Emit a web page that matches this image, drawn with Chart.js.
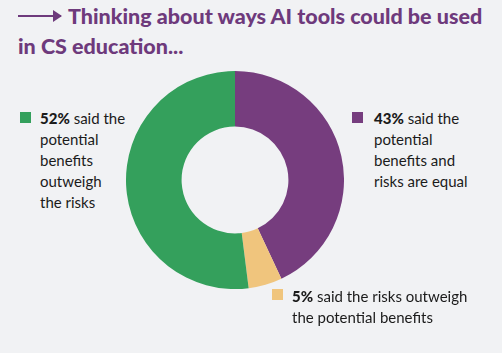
<!DOCTYPE html>
<html><head><meta charset="utf-8">
<script src="https://cdn.jsdelivr.net/npm/chart.js@4/dist/chart.umd.min.js"></script>
<style>
html,body{margin:0;padding:0;background:#f1f2f4;width:502px;height:353px;overflow:hidden;font-family:"Lato","Open Sans",sans-serif;}
#title{position:absolute;left:18px;top:1px;width:490px;white-space:nowrap;color:#6e3a7c;font-weight:900;font-size:21.5px;line-height:30px;}
#title .arrow{display:inline-block;width:43px;height:2px;background:#6e3a7c;vertical-align:middle;position:relative;margin-right:7px;top:-2px}
#title .arrow:after{content:"";position:absolute;right:-1px;top:-5px;border-left:9px solid #6e3a7c;border-top:6px solid transparent;border-bottom:6px solid transparent}
.lg{position:absolute;color:#1b1b1b;font-size:15px;line-height:21px;}
.lg b{font-weight:900}
.sq{position:absolute;width:11px;height:11px}
#wrap{position:absolute;left:126px;top:71px;width:218px;height:218px}
</style></head><body>
<div id="title"><span class="arrow"></span>Thinking about ways AI tools could be used<br>in CS education...</div>
<div id="wrap"><canvas id="c"></canvas></div>
<div id="legends"></div>
<script>
const categories = ["said the potential benefits and risks are equal", "said the risks outweigh the potential benefits", "said the potential benefits outweigh the risks"];
const values = [43, 5, 52];
const colors = ["#763d7e", "#f0c57d", "#34a05c"];
const legendLines = [
  ["<b>43%</b> said the","potential","benefits and","risks are equal"],
  ["<b>5%</b> said the risks outweigh","the potential benefits"],
  ["<b>52%</b> said the","potential","benefits","outweigh","the risks"]
];
const legendPos = [[352,112,374,108],[272,289,292,286],[20,112,40,108]];
const lg = document.getElementById('legends');
legendLines.forEach((lines,i)=>{
  const p = legendPos[i];
  const sq = document.createElement('div'); sq.className='sq';
  sq.style.left=p[0]+'px'; sq.style.top=p[1]+'px'; sq.style.background=colors[i];
  lg.appendChild(sq);
  const t = document.createElement('div'); t.className='lg';
  t.style.left=p[2]+'px'; t.style.top=p[3]+'px';
  t.innerHTML = lines.join('<br>');
  lg.appendChild(t);
});
new Chart(document.getElementById('c'), {
  type:'doughnut',
  data:{labels:categories, datasets:[{data:values, backgroundColor:colors, borderWidth:0}]},
  options:{responsive:true, maintainAspectRatio:false, animation:false, cutout:'49%',
    layout:{padding:0},
    plugins:{legend:{display:false}, tooltip:{enabled:false}}}
});
</script>
</body></html>
